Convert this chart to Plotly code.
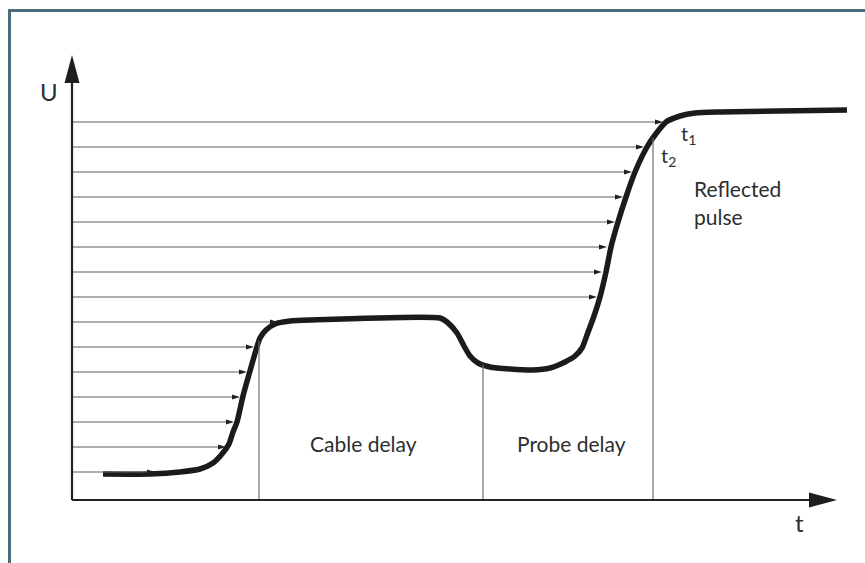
import numpy as np
import plotly.graph_objects as go

# ---- data (t: time units from origin, U: voltage units from origin) ----
curve_t = [31, 78, 108, 128, 141, 150, 157, 161, 165, 171, 178, 184, 188, 194, 203, 218, 238,
           368, 375, 385, 392, 398, 406, 418, 438, 461, 478, 493, 503, 510, 515, 522,
           528, 534, 539, 546, 554, 563, 575, 583, 594, 608, 623, 648, 775]
curve_U = [26, 26, 28, 31, 37, 46, 56, 68, 78, 104, 129, 150, 162, 170, 176, 179, 180,
           182, 178, 167, 154, 144, 137, 133, 131, 130, 132, 138, 144, 152, 165, 184,
           203, 228, 253, 278, 303, 328, 353, 365, 378, 384, 387, 388, 390]

arrow_levels = [28, 53, 78, 103, 128, 153, 178, 203, 228, 253, 278, 303, 328, 353, 378]
arrow_tips = [83, 154, 162, 168, 175, 182, 206, 525, 530, 535, 543, 551, 560, 572, 591]

delay_marks = [187, 411, 581]          # t positions of the vertical separators
region_labels = ["Cable delay", "Probe delay"]
region_label_t = [291, 499]
axis_t_end = 765
axis_U_end = 445

# ---- style ----
FONT = "Lato, 'Open Sans', sans-serif"
TXT = "#2e2e2e"
W, H = 865, 563
X0, Y0 = 72, 500   # pixel position of origin (used only for axis ranges)

fig = go.Figure()
shapes = []

# horizontal arrows
for lev, tip in zip(arrow_levels, arrow_tips):
    hl, hw = 8, 2.6
    shapes.append(dict(type="line", xref="x", yref="y", x0=0, y0=lev, x1=tip - hl + 1, y1=lev,
                       line=dict(color="#606060", width=1.2)))
    shapes.append(dict(type="path", xref="x", yref="y",
                       path=f"M{tip},{lev} L{tip-hl},{lev+hw} L{tip-hl},{lev-hw} Z",
                       fillcolor="#222222", line=dict(width=0)))

# vertical separators
tops = np.interp(delay_marks, curve_t, curve_U)
for tm, top in zip(delay_marks, tops):
    shapes.append(dict(type="line", xref="x", yref="y", x0=tm, y0=0, x1=tm, y1=top,
                       line=dict(color="#707070", width=1.2)))

# axes with arrowheads
ah_len, ah_hw = 28, 7.5
shapes.append(dict(type="line", xref="x", yref="y", x0=0, y0=0, x1=axis_t_end - ah_len + 1, y1=0,
                   line=dict(color="#222222", width=2.2)))
shapes.append(dict(type="line", xref="x", yref="y", x0=0, y0=0, x1=0, y1=axis_U_end - ah_len + 1,
                   line=dict(color="#222222", width=2.2)))
shapes.append(dict(type="path", xref="x", yref="y",
                   path=f"M{axis_t_end},0 L{axis_t_end-ah_len},{ah_hw} L{axis_t_end-ah_len},{-ah_hw} Z",
                   fillcolor="#1e1e1e", line=dict(width=0)))
shapes.append(dict(type="path", xref="x", yref="y",
                   path=f"M0,{axis_U_end} L{-ah_hw},{axis_U_end-ah_len} L{ah_hw},{axis_U_end-ah_len} Z",
                   fillcolor="#1e1e1e", line=dict(width=0)))

# frame (top and left)
shapes.append(dict(type="line", xref="paper", yref="paper", x0=9 / W, y0=1 - 10.5 / H, x1=1.01, y1=1 - 10.5 / H,
                   line=dict(color="#4d6d7e", width=3)))
shapes.append(dict(type="line", xref="paper", yref="paper", x0=9.5 / W, y0=1 - 9 / H, x1=9.5 / W, y1=-0.01,
                   line=dict(color="#4d6d7e", width=3)))

# curve
fig.add_trace(go.Scatter(x=curve_t, y=curve_U, mode="lines",
                         line=dict(color="#1c1a1b", width=5.5, shape="spline", smoothing=0.6),
                         hoverinfo="skip", showlegend=False))

ann = []
def txt(x, y, s, size=21, xanchor="center"):
    ann.append(dict(x=x, y=y, xref="x", yref="y", text=s, showarrow=False,
                    font=dict(family=FONT, size=size, color=TXT), xanchor=xanchor, yanchor="middle"))

for lab, tx in zip(region_labels, region_label_t):
    txt(tx, 57, lab)
txt(620, 312, "Reflected", xanchor="left")
txt(620, 284, "pulse", xanchor="left")
txt(616, 366, "t<sub>1</sub>", size=20)
txt(596, 344, "t<sub>2</sub>", size=20)
txt(-23, 409, "U", size=24)
txt(727, -22, "t", size=24)

fig.update_layout(
    width=W, height=H, margin=dict(l=0, r=0, t=0, b=0),
    paper_bgcolor="white", plot_bgcolor="white",
    xaxis=dict(range=[-X0, W - X0], visible=False, fixedrange=True),
    yaxis=dict(range=[Y0 - H, Y0], visible=False, fixedrange=True),
    shapes=shapes, annotations=ann, showlegend=False,
)

fig.write_html("out.html", config={"displayModeBar": False, "staticPlot": True},
               post_script="document.body.style.margin='0';document.body.style.padding='0';")
